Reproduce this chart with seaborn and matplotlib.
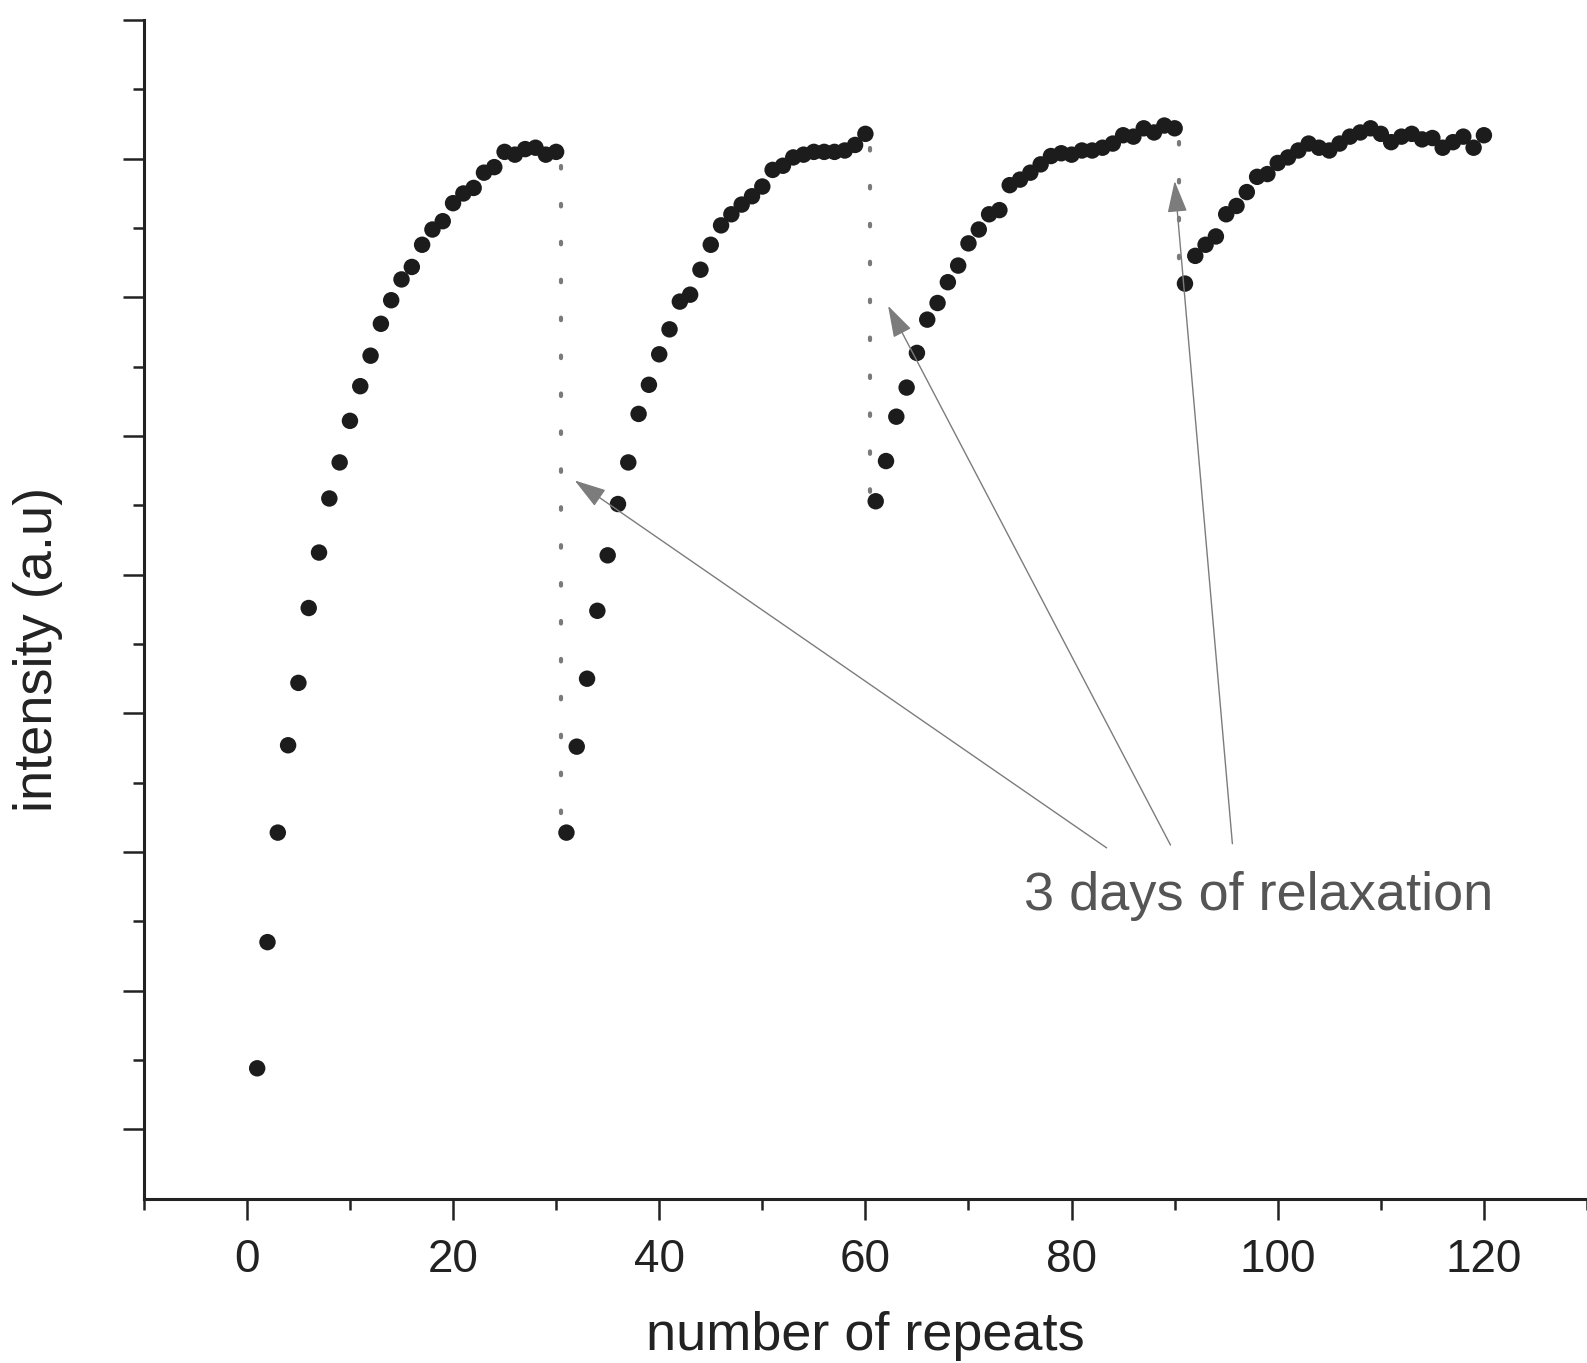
import matplotlib
matplotlib.use("Agg")
import matplotlib.pyplot as plt
import seaborn as sns
import numpy as np
import pandas as pd

# ---- data (arbitrary intensity units) ----
repeats_1 = list(range(1, 31))
intensity_1 = [0.94, 1.85, 2.64, 3.27, 3.72, 4.26, 4.66, 5.05, 5.31, 5.61,
               5.86, 6.08, 6.31, 6.48, 6.63, 6.72, 6.88, 6.99, 7.05, 7.18,
               7.25, 7.29, 7.40, 7.44, 7.55, 7.53, 7.57, 7.58, 7.53, 7.55]
repeats_2 = list(range(31, 61))
intensity_2 = [2.64, 3.26, 3.75, 4.24, 4.64, 5.01, 5.31, 5.66, 5.87, 6.09,
               6.27, 6.47, 6.52, 6.70, 6.88, 7.02, 7.10, 7.17, 7.23, 7.30,
               7.42, 7.45, 7.51, 7.53, 7.55, 7.55, 7.55, 7.56, 7.60, 7.68]
repeats_3 = list(range(61, 91))
intensity_3 = [5.03, 5.32, 5.64, 5.85, 6.10, 6.34, 6.46, 6.61, 6.73, 6.89,
               6.99, 7.10, 7.13, 7.31, 7.35, 7.40, 7.46, 7.52, 7.54, 7.53,
               7.56, 7.56, 7.58, 7.61, 7.67, 7.66, 7.72, 7.69, 7.74, 7.72]
repeats_4 = list(range(91, 121))
intensity_4 = [6.60, 6.80, 6.88, 6.94, 7.10, 7.16, 7.26, 7.37, 7.39, 7.47,
               7.51, 7.56, 7.61, 7.58, 7.56, 7.61, 7.66, 7.69, 7.72, 7.68,
               7.62, 7.66, 7.68, 7.64, 7.65, 7.58, 7.62, 7.66, 7.58, 7.67]

segments = [(repeats_1, intensity_1), (repeats_2, intensity_2),
            (repeats_3, intensity_3), (repeats_4, intensity_4)]

x_ticks = [0, 20, 40, 60, 80, 100, 120]
annotation_text = "3 days of relaxation"
# arrow tails (near the text) and heads (at the relaxation jumps)
arrow_tails = [(83.4, 2.53), (89.6, 2.55), (95.6, 2.56)]
arrow_heads = [(31.8, 5.18), (62.2, 6.44), (90.0, 7.34)]
text_pos = (98.1, 2.18)

df = pd.concat([pd.DataFrame({"repeat": r, "intensity": v}) for r, v in segments],
               ignore_index=True)

# ---- style ----
sns.set_style("ticks")
plt.rcParams["font.family"] = ["Liberation Sans", "DejaVu Sans"]

fig = plt.figure(figsize=(15.87, 13.63), dpi=100)
ax = fig.add_axes([0.0906, 0.1206, 0.9094, 0.8646])

dot_color = "#1c1c1c"
grey = "#7c7c7c"

# dotted connectors at the relaxation breaks
for (r_prev, v_prev), (r_next, v_next) in zip(segments[:-1], segments[1:]):
    xb = r_prev[-1] + 0.45
    ax.plot([xb, xb], [v_prev[-1] - 0.1, v_next[0]], color="#7a7a7a",
            linestyle=(0, (0.6, 8.5)), linewidth=3.0, dash_capstyle="round", zorder=1)

sns.scatterplot(data=df, x="repeat", y="intensity", ax=ax, color=dot_color,
                s=140, edgecolor="none", linewidth=0, zorder=3, legend=False)

for tail, head in zip(arrow_tails, arrow_heads):
    ax.annotate("", xy=head, xytext=tail,
                arrowprops=dict(arrowstyle="-|>,head_length=0.9,head_width=0.28",
                                color=grey, lw=1.0, mutation_scale=22,
                                shrinkA=0, shrinkB=0), zorder=4)

ax.text(text_pos[0], text_pos[1], annotation_text, ha="center", va="center",
        fontsize=39, color="#555555")

ax.set_xlim(-10, 130)
ax.set_ylim(0, 8.5)
ax.set_xticks(x_ticks)
ax.set_xticks(np.arange(-10, 131, 20), minor=True)
ax.set_yticks(np.arange(0.5, 8.6, 1.0))
ax.set_yticks(np.arange(1.0, 8.1, 1.0), minor=True)
ax.set_yticklabels([])

for side in ["top", "right"]:
    ax.spines[side].set_visible(False)
for side in ["left", "bottom"]:
    ax.spines[side].set_linewidth(2.2)
    ax.spines[side].set_color("#222222")

ax.tick_params(axis="both", which="major", length=15, width=1.8, color="#222222",
               direction="out", labelsize=33, pad=13, labelcolor="#222222")
ax.tick_params(axis="both", which="minor", length=8, width=1.8, color="#222222",
               direction="out")

ax.set_xlabel("number of repeats", fontsize=39, color="#222222", labelpad=21)
ax.set_ylabel("intensity (a.u)", fontsize=39, color="#222222")
ax.yaxis.set_label_coords(-0.056, 0.466)

fig.savefig("out.png", dpi=100, facecolor="white")
